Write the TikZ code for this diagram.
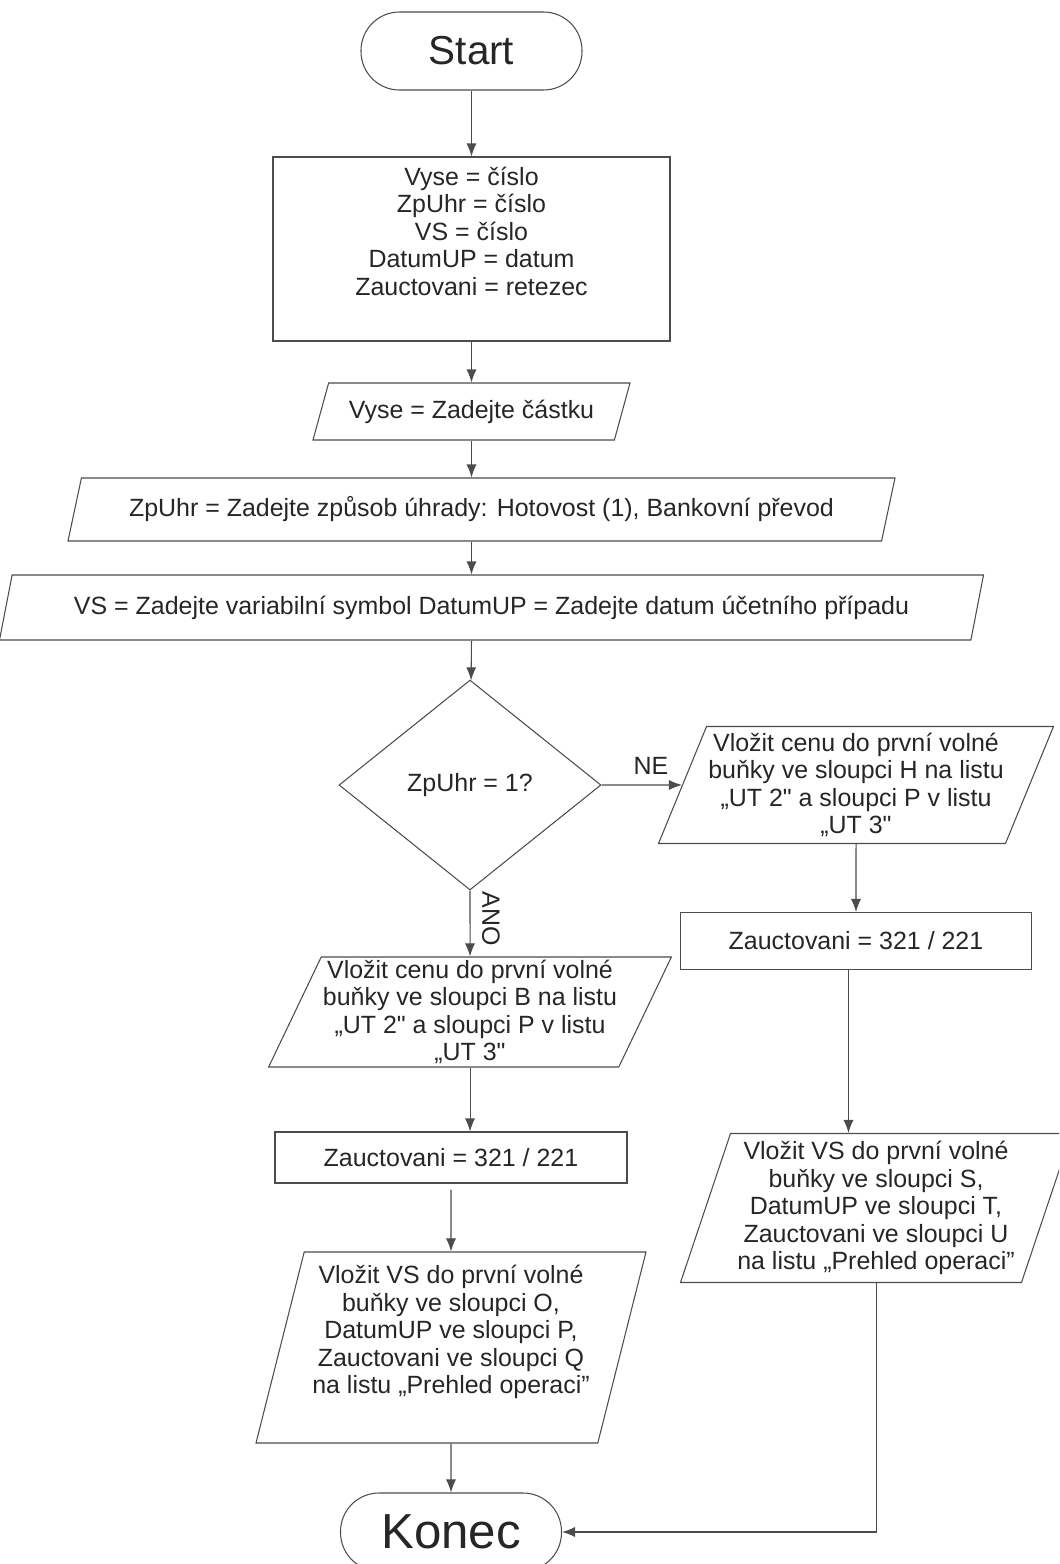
\documentclass[tikz,border=0pt]{standalone}
\usepackage{fontspec}
\setmainfont{Liberation Sans}[Ligatures=TeXOff]
\usetikzlibrary{shapes.geometric,arrows.meta}

\begin{document}
\begin{tikzpicture}[node distance=3cm, color=black!70, line width=0.6pt,
    >={Latex[length=0.26cm,width=0.2cm]},
    every node/.style={font=\fontsize{14.2}{15.7}\selectfont, text=black!85, align=center},
    term/.style={draw, rectangle, rounded corners=0.77cm, minimum width=4.42cm, minimum height=1.56cm},
    box/.style={draw, rectangle, inner sep=2pt},
    io/.style={draw, trapezium, trapezium stretches body, inner sep=1pt},
    decision/.style={draw, diamond, minimum width=5.24cm, minimum height=4.2cm, inner sep=0pt}]
        \useasboundingbox (0,0) rectangle (21.18,-31.28);
        \clip (0,0) rectangle (21.18,-31.28);

        % Main column
        \node (start) [term, font=\fontsize{23}{26}\selectfont] at (9.43,-1.02) {Start};
        \node (vars) [box, below of=start, yshift=-0.96cm, minimum width=7.94cm, minimum height=3.68cm]
            {Vyse = číslo\\ZpUhr = číslo\\VS = číslo\\DatumUP = datum\\Zauctovani = retezec\\ \strut};
        \node (vyse) [io, below of=vars, yshift=-0.25cm, trapezium left angle=60, trapezium right angle=120,
            minimum width=6.34cm, minimum height=1.14cm] {Vyse = Zadejte částku};
        \node (zpuhr) [io, below of=vyse, xshift=0.2cm, yshift=1.04cm, trapezium left angle=65, trapezium right angle=115,
            minimum width=16.54cm, minimum height=1.26cm] {ZpUhr = Zadejte způsob úhrady: Hotovost (1), Bankovní převod};
        \node (vs) [io, below of=zpuhr, xshift=0.2cm, yshift=1.04cm, trapezium left angle=65, trapezium right angle=115,
            minimum width=19.68cm, minimum height=1.3cm] {VS = Zadejte variabilní symbol DatumUP = Zadejte datum účetního případu};
        \node (dec) [decision, below of=vs, xshift=-0.43cm, yshift=-0.55cm] {ZpUhr = 1?};

        % Branch ANO
        \node (hotB) [io, below of=dec, yshift=-1.54cm, trapezium left angle=64, trapezium right angle=116,
            minimum width=7.84cm, minimum height=2.2cm]
            {Vložit cenu do první volné\\buňky ve sloupci B na listu\\„UT 2" a sloupci P v listu\\„UT 3"};
        \node (zauB) [box, below of=hotB, xshift=-0.38cm, yshift=0.09cm, minimum width=7.04cm, minimum height=1.02cm]
            {Zauctovani = 321 / 221};
        \node (preB) [io, below of=zauB, yshift=-0.8cm, trapezium left angle=74, trapezium right angle=106,
            minimum width=7.8cm, minimum height=3.82cm]
            {Vložit VS do první volné\\buňky ve sloupci O,\\DatumUP ve sloupci P,\\Zauctovani ve sloupci Q\\na listu „Prehled operaci”\\ \strut};
        \node (konec) [term, below of=preB, yshift=-0.69cm, font=\fontsize{28}{32}\selectfont] {Konec};

        % Branch NE
        \node (bankH) [io, right of=dec, xshift=4.72cm, trapezium left angle=66, trapezium right angle=114,
            minimum width=7.76cm, minimum height=2.34cm]
            {Vložit cenu do první volné\\buňky ve sloupci H na listu\\„UT 2" a sloupci P v listu\\„UT 3"};
        \node (zauH) [box, below of=bankH, yshift=-0.12cm, minimum width=7.02cm, minimum height=1.14cm]
            {Zauctovani = 321 / 221};
        \node (preH) [io, below of=zauH, xshift=0.4cm, yshift=-2.34cm, trapezium left angle=70, trapezium right angle=110,
            minimum width=7.82cm, minimum height=2.98cm]
            {Vložit VS do první volné\\buňky ve sloupci S,\\DatumUP ve sloupci T,\\Zauctovani ve sloupci U\\na listu „Prehled operaci”};

        % Labels
        \node (ne) [right of=dec, xshift=0.62cm, yshift=0.38cm] {NE};
        \node (ano) [below of=dec, xshift=0.42cm, yshift=0.32cm, rotate=-90] {ANO};

        % Arrows
        \draw[->] (start) -- (vars);
        \draw[->] (vars) -- (vars |- vyse.north);
        \draw[->] (vyse.south -| vars) -- (zpuhr.north -| vars);
        \draw[->] (zpuhr.south -| vars) -- (vs.north -| vars);
        \draw[->] (vs.south -| vars) -- (dec);
        \draw[->] (dec) -- (bankH);
        \draw[->] (dec) -- (hotB);
        \draw[->] (hotB.south) -- (hotB.south |- zauB.north);
        \draw[->, shorten <=0.12cm] (zauB) -- (preB);
        \draw[->] (preB) -- (konec);
        \draw[->] (bankH) -- (zauH);
        \draw[->] ([xshift=-0.15cm]zauH.south) -- ([xshift=-0.15cm]zauH.south |- preH.north);
        \draw[->] (preH) |- (konec);
\end{tikzpicture}
\end{document}
